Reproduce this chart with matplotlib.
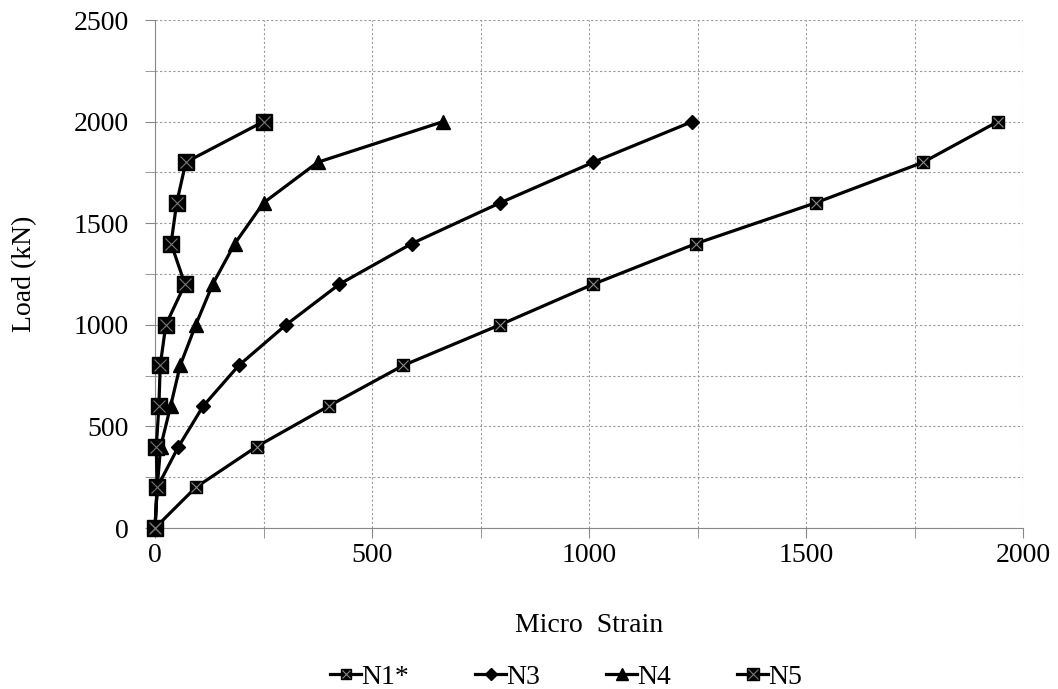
import numpy as np
import matplotlib
matplotlib.use('Agg')
from matplotlib import pyplot as plt
from matplotlib.legend_handler import HandlerTuple

load = [0, 200, 400, 600, 800, 1000, 1200, 1400, 1600, 1800, 2000]

n1 = [0, 94, 234, 400, 572, 795, 1010, 1247, 1522, 1770, 1942]
n3 = [0, 5, 54, 111, 193, 302, 425, 592, 795, 1010, 1238]
n4 = [0, 5, 13, 36, 58, 94, 133, 184, 250, 375, 664]
n5 = [0, 5, 3, 9, 12, 25, 69, 37, 50, 71, 250]

plt.rcParams['font.family'] = ['Liberation Serif', 'DejaVu Serif']

fig = plt.figure(figsize=(10.58, 6.89), dpi=100)
ax = fig.add_axes([155/1058, 1-528/689, 868/1058, 508/689])

lw = 2.3
# N1* - small square with grey cross
l1, = ax.plot(n1, load, color='black', lw=lw, marker='s', ms=8.5, zorder=3, clip_on=False)
x1, = ax.plot(n1, load, ls='none', marker='x', ms=6.5, mew=0.8, color='#888888', zorder=4, clip_on=False)
l3, = ax.plot(n3, load, color='black', lw=lw, marker='D', ms=7.5, zorder=3, clip_on=False)
l4, = ax.plot(n4, load, color='black', lw=lw, marker='^', ms=10, zorder=3, clip_on=False)
l5, = ax.plot(n5, load, color='black', lw=lw, marker='s', ms=11, zorder=3, clip_on=False)
x5, = ax.plot(n5, load, ls='none', marker='x', ms=9, mew=0.8, color='#777777', zorder=4, clip_on=False)

ax.set_xlim(0, 2000)
ax.set_ylim(0, 2500)
ax.set_xticks(np.arange(0, 2001, 500))
ax.set_yticks(np.arange(0, 2501, 500))
ax.set_xticks(np.arange(0, 2001, 250), minor=True)
ax.set_yticks(np.arange(0, 2501, 250), minor=True)
ax.grid(True, which='both', ls=(0, (2, 2)), color='#999999', lw=0.8)
ax.set_axisbelow(True)

for s in ['top', 'right']:
    ax.spines[s].set_visible(False)
for s in ['left', 'bottom']:
    ax.spines[s].set_color('#888888')
ax.tick_params(which='both', length=7, color='#888888', labelsize=20)
ax.tick_params(axis='x', pad=4)
ax.tick_params(axis='y', pad=12)

ax.set_xlabel('Micro  Strain', fontsize=20, labelpad=32)
ax.set_ylabel('Load (kN)', fontsize=20, labelpad=26)

fig.legend([(l1, x1), l3, l4, (l5, x5)], ['N1*', 'N3', 'N4', 'N5'],
           handler_map={tuple: HandlerTuple(ndivide=1)},
           loc='center', bbox_to_anchor=(0.535, 1-677/689), ncol=4, frameon=False,
           fontsize=20, handlelength=1.1, handletextpad=0.0, columnspacing=2.4,
           markerscale=0.8)

fig.savefig('out.png', dpi=100)
